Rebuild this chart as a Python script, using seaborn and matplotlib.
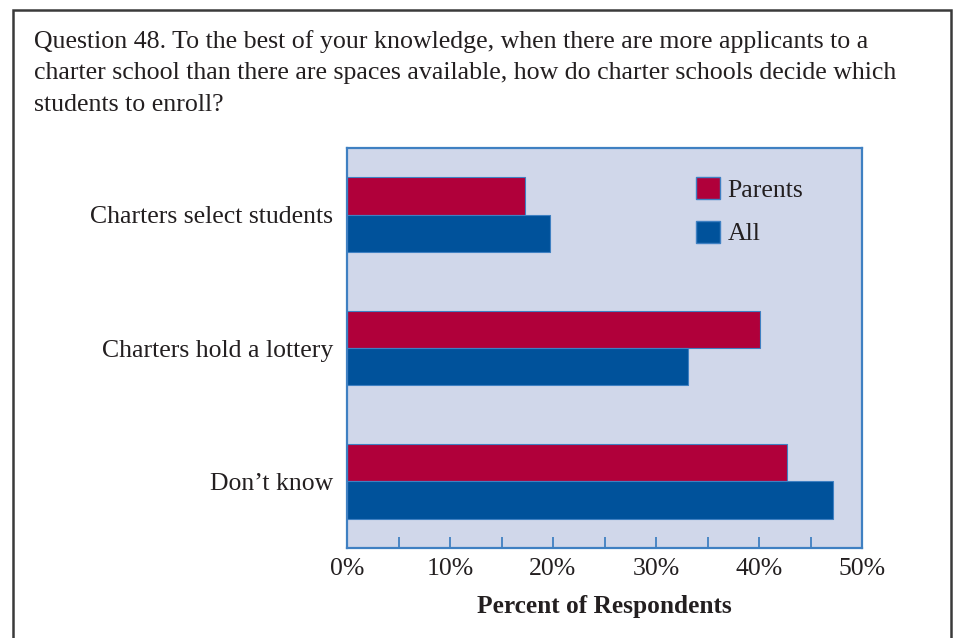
import matplotlib
matplotlib.use("Agg")
import matplotlib.pyplot as plt
import matplotlib.patches as mpatches
from matplotlib.ticker import MultipleLocator, FuncFormatter
import seaborn as sns
import pandas as pd

# Survey responses (percent of respondents)
categories = ["Charters select students", "Charters hold a lottery", "Don\u2019t know"]
groups = ["Parents", "All"]
parents_pct = [17.3, 40.1, 42.7]
all_pct = [19.7, 33.1, 47.2]
x_ticks = [0, 10, 20, 30, 40, 50]

question = ("Question 48. To the best of your knowledge, when there are more applicants to a\n"
            "charter school than there are spaces available, how do charter schools decide which\n"
            "students to enroll?")

df = pd.DataFrame({
    "category": categories * 2,
    "group": [groups[0]] * len(categories) + [groups[1]] * len(categories),
    "pct": parents_pct + all_pct,
})

RED = "#B0003A"
BLUE = "#00529B"
BG = "#D0D7EA"
EDGE = "#3F80C2"
TEXT = "#231F20"

sns.set_theme(style="white")
plt.rcParams["font.family"] = ["Liberation Serif", "DejaVu Serif"]

fig = plt.figure(figsize=(9.56, 6.38), dpi=100)
W, H = 956, 638
ax = fig.add_axes([347 / W, (H - 548) / H, (862 - 347) / W, (548 - 148) / H])

sns.barplot(data=df, y="category", x="pct", hue="group", hue_order=groups,
            order=categories, palette=[RED, BLUE], orient="h", width=0.56,
            edgecolor=EDGE, linewidth=0.8, saturation=1, ax=ax)

ax.set_facecolor(BG)
ax.set_xlim(0, 50)
ax.set_ylim(2.5, -0.5)

for s in ax.spines.values():
    s.set_color(EDGE)
    s.set_linewidth(1.6)
    s.set_visible(True)

ax.xaxis.set_major_locator(MultipleLocator(10))
ax.xaxis.set_minor_locator(MultipleLocator(5))
ax.set_xticks(x_ticks)
ax.xaxis.set_major_formatter(FuncFormatter(lambda v, p: f"{v:.0f}%"))
ax.tick_params(axis="x", which="both", direction="in", length=8, width=1.3,
               color=EDGE, labelsize=18.5, labelcolor=TEXT, pad=7, bottom=True)
ax.tick_params(axis="y", length=0, labelsize=18.5, labelcolor=TEXT, pad=10)

ax.set_ylabel("")
ax.set_xlabel("Percent of Respondents", fontsize=18.3, fontweight="bold",
              color=TEXT, labelpad=11)

handles = [mpatches.Patch(facecolor=RED, edgecolor=EDGE, linewidth=1.0, label=groups[0]),
           mpatches.Patch(facecolor=BLUE, edgecolor=EDGE, linewidth=1.0, label=groups[1])]
ax.legend(handles=handles, loc="upper left", bbox_to_anchor=(0.632, 0.985),
          frameon=False, fontsize=18.5, handlelength=0.95, handleheight=0.95,
          handletextpad=0.3, labelspacing=0.72, labelcolor=TEXT)

fig.text(34 / W, 1 - 30 / H, question, fontsize=18.6, color=TEXT,
         va="top", ha="left", linespacing=1.55)

# Outer frame around the whole panel
frame = mpatches.Rectangle((13 / W, -0.02), (951 - 13) / W, 1 - 10 / H + 0.02,
                           transform=fig.transFigure, fill=False,
                           edgecolor="#3a3a3a", linewidth=1.8)
fig.patches.append(frame)

fig.savefig("out.png", dpi=100)
